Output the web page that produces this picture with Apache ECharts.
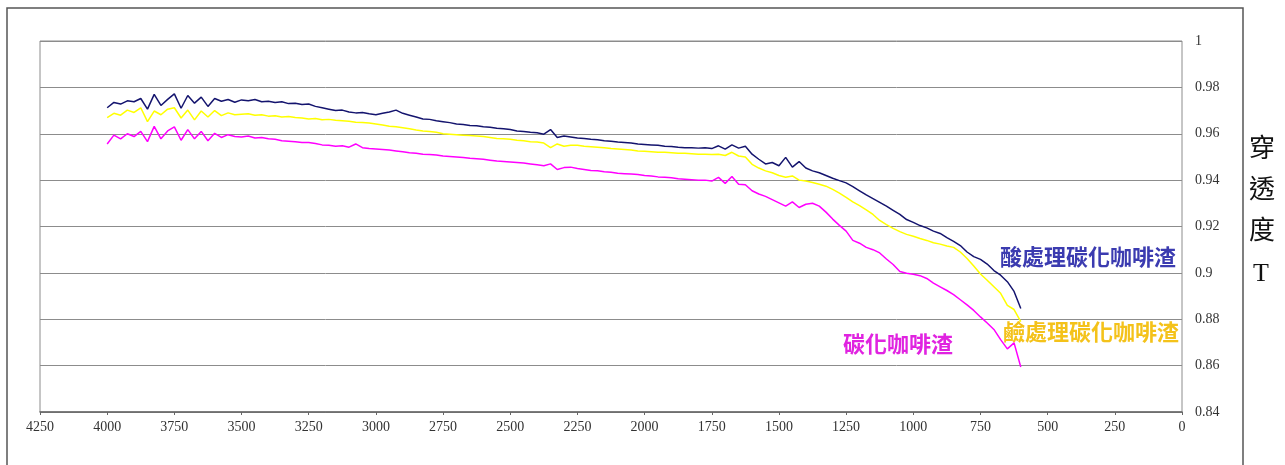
<!DOCTYPE html>
<html>
<head>
<meta charset="utf-8">
<script src="https://cdn.jsdelivr.net/npm/echarts@6/dist/echarts.min.js"></script>
<style>
html,body{margin:0;padding:0;background:#fff;}
#chart{width:1285px;height:465px;}
</style>
</head>
<body>
<div id="chart"></div>
<script>
// Wavenumbers (cm-1)
const wavenumbers = [4000,3975,3950,3925,3900,3875,3850,3825,3800,3775,
3750,3725,3700,3675,3650,3625,3600,3575,3550,3525,
3500,3475,3450,3425,3400,3375,3350,3325,3300,3275,
3250,3225,3200,3175,3150,3125,3100,3075,3050,3025,
3000,2975,2950,2925,2900,2875,2850,2825,2800,2775,
2750,2725,2700,2675,2650,2625,2600,2575,2550,2525,
2500,2475,2450,2425,2400,2375,2350,2325,2300,2275,
2250,2225,2200,2175,2150,2125,2100,2075,2050,2025,
2000,1975,1950,1925,1900,1875,1850,1825,1800,1775,
1750,1725,1700,1675,1650,1625,1600,1575,1550,1525,
1500,1475,1450,1425,1400,1375,1350,1325,1300,1275,
1250,1225,1200,1175,1150,1125,1100,1075,1050,1025,
1000,975,950,925,900,875,850,825,800,775,
750,725,700,675,650,625,600];

// 酸處理碳化咖啡渣 (navy)
const acidTreated = [0.9712,0.9735,0.9728,0.9742,0.9738,0.9752,0.9706,0.9770,0.9722,0.9748,
0.9772,0.9710,0.9765,0.9732,0.9758,0.9718,0.9752,0.9740,0.9748,0.9736,
0.9746,0.9742,0.9748,0.9738,0.9740,0.9735,0.9738,0.9730,0.9732,0.9726,
0.9728,0.9718,0.9712,0.9706,0.9700,0.9702,0.9694,0.9690,0.9692,0.9686,
0.9682,0.9688,0.9694,0.9702,0.9688,0.9680,0.9672,0.9664,0.9662,0.9656,
0.9652,0.9648,0.9642,0.9640,0.9636,0.9634,0.9630,0.9628,0.9624,0.9622,
0.9618,0.9612,0.9610,0.9606,0.9604,0.9598,0.9618,0.9584,0.9590,0.9586,
0.9582,0.9580,0.9576,0.9574,0.9570,0.9568,0.9564,0.9562,0.9560,0.9556,
0.9554,0.9552,0.9550,0.9546,0.9545,0.9542,0.9540,0.9540,0.9538,0.9540,
0.9536,0.9548,0.9534,0.9552,0.9538,0.9546,0.9512,0.9490,0.9470,0.9476,
0.9462,0.9498,0.9456,0.9480,0.9452,0.9440,0.9432,0.9420,0.9408,0.9398,
0.9388,0.9372,0.9354,0.9336,0.9320,0.9304,0.9288,0.9270,0.9252,0.9230,
0.9218,0.9204,0.9194,0.9180,0.9170,0.9152,0.9136,0.9118,0.9090,0.9070,
0.9058,0.9038,0.9010,0.8990,0.8962,0.8920,0.8846];

// 鹼處理碳化咖啡渣 (yellow)
const alkaliTreated = [0.9670,0.9688,0.9680,0.9702,0.9692,0.9712,0.9652,0.9698,0.9682,0.9706,
0.9712,0.9668,0.9702,0.9660,0.9698,0.9672,0.9700,0.9678,0.9690,0.9682,
0.9684,0.9686,0.9680,0.9682,0.9676,0.9678,0.9672,0.9674,0.9670,0.9668,
0.9664,0.9666,0.9660,0.9662,0.9658,0.9656,0.9654,0.9650,0.9648,0.9646,
0.9642,0.9638,0.9632,0.9630,0.9626,0.9622,0.9616,0.9612,0.9610,0.9606,
0.9600,0.9598,0.9596,0.9594,0.9592,0.9590,0.9588,0.9584,0.9580,0.9578,
0.9576,0.9572,0.9570,0.9566,0.9564,0.9560,0.9540,0.9556,0.9546,0.9550,
0.9550,0.9546,0.9544,0.9542,0.9540,0.9536,0.9534,0.9532,0.9530,0.9526,
0.9524,0.9522,0.9520,0.9520,0.9518,0.9516,0.9516,0.9514,0.9512,0.9512,
0.9510,0.9512,0.9506,0.9520,0.9504,0.9500,0.9468,0.9452,0.9440,0.9432,
0.9420,0.9412,0.9418,0.9400,0.9396,0.9390,0.9382,0.9374,0.9360,0.9344,
0.9326,0.9306,0.9290,0.9272,0.9252,0.9226,0.9208,0.9192,0.9178,0.9166,
0.9158,0.9148,0.9140,0.9130,0.9124,0.9116,0.9110,0.9090,0.9062,0.9030,
0.8995,0.8968,0.8940,0.8912,0.8860,0.8842,0.8790];

// 碳化咖啡渣 (magenta)
const carbonized = [0.9556,0.9594,0.9578,0.9600,0.9588,0.9610,0.9566,0.9632,0.9578,0.9612,
0.9630,0.9572,0.9618,0.9578,0.9610,0.9570,0.9602,0.9584,0.9596,0.9588,
0.9586,0.9590,0.9582,0.9584,0.9578,0.9576,0.9570,0.9568,0.9566,0.9562,
0.9562,0.9558,0.9552,0.9550,0.9546,0.9548,0.9542,0.9556,0.9540,0.9536,
0.9534,0.9532,0.9530,0.9526,0.9522,0.9518,0.9516,0.9512,0.9510,0.9508,
0.9504,0.9502,0.9500,0.9498,0.9494,0.9492,0.9490,0.9486,0.9482,0.9480,
0.9478,0.9476,0.9474,0.9470,0.9466,0.9462,0.9470,0.9446,0.9454,0.9456,
0.9450,0.9446,0.9442,0.9440,0.9436,0.9434,0.9430,0.9428,0.9426,0.9424,
0.9420,0.9418,0.9414,0.9412,0.9410,0.9406,0.9404,0.9402,0.9400,0.9400,
0.9396,0.9412,0.9386,0.9416,0.9382,0.9380,0.9354,0.9340,0.9330,0.9316,
0.9302,0.9288,0.9306,0.9282,0.9296,0.9300,0.9288,0.9262,0.9232,0.9205,
0.9180,0.9140,0.9128,0.9110,0.9100,0.9086,0.9060,0.9036,0.9006,0.8998,
0.8994,0.8988,0.8976,0.8956,0.8940,0.8924,0.8906,0.8884,0.8862,0.8838,
0.8810,0.8784,0.8756,0.8712,0.8672,0.8698,0.8594];

const seriesNames = ['鹼處理碳化咖啡渣','碳化咖啡渣','酸處理碳化咖啡渣'];
const seriesValues = [alkaliTreated, carbonized, acidTreated];
const seriesColors = ['#ffff00','#ff00ff','#14146e'];
const yTitle = ['穿','透','度','T'];

function pairs(vals){ return wavenumbers.map((w,i)=>[w, vals[i]]); }

const chart = echarts.init(document.getElementById('chart'), null, {renderer:'canvas'});
const serif = '"Liberation Serif", "DejaVu Serif", serif';
const cjk = '"Noto Sans CJK TC", "Noto Sans CJK SC", sans-serif';

chart.setOption({
  animation: false,
  backgroundColor: '#ffffff',
  grid: {left: 40, right: 103, top: 41, bottom: 53, show: true, borderColor: '#8c8c8c', borderWidth: 1},
  xAxis: {
    type: 'value', inverse: true, min: 0, max: 4250, interval: 250,
    axisLine: {show: true, onZero: false, lineStyle: {color: '#666', width: 1.5}},
    axisTick: {show: true, length: 3, lineStyle: {color: '#666'}},
    axisLabel: {color: '#333', fontFamily: serif, fontSize: 14, margin: 8, showMinLabel: true, showMaxLabel: true,
      formatter: v => String(Math.round(v))},
    splitLine: {show: false}
  },
  yAxis: {
    type: 'value', position: 'right', min: 0.84, max: 1, interval: 0.02,
    axisLine: {show: false},
    axisTick: {show: false},
    axisLabel: {color: '#333', fontFamily: serif, fontSize: 14, margin: 13,
      formatter: v => String(+(+v).toFixed(2))},
    splitLine: {show: true, lineStyle: {color: '#8c8c8c', width: 1}}
  },
  series: seriesNames.map((n, i) => ({
    name: n, type: 'line', data: pairs(seriesValues[i]), showSymbol: false, symbol: 'none',
    lineStyle: {color: seriesColors[i], width: 1.5}, z: 3 + i
  })),
  graphic: [
    {type: 'rect', shape: {x: 7, y: 8, width: 1236, height: 470}, style: {fill: null, stroke: '#555', lineWidth: 1.5}, silent: true},
    {type: 'text', left: 1000, top: 246, style: {text: '酸處理碳化咖啡渣', fill: '#3b3bb0', font: 'bold 22px ' + cjk}},
    {type: 'text', left: 1003, top: 321, style: {text: '鹼處理碳化咖啡渣', fill: '#f4c21a', font: 'bold 22px ' + cjk}},
    {type: 'text', left: 843, top: 333, style: {text: '碳化咖啡渣', fill: '#e023e0', font: 'bold 22px ' + cjk}},
    {type: 'text', left: 1249, top: 134, style: {text: yTitle[0], fill: '#111', font: '26px ' + cjk}},
    {type: 'text', left: 1249, top: 175, style: {text: yTitle[1], fill: '#111', font: '26px ' + cjk}},
    {type: 'text', left: 1249, top: 216, style: {text: yTitle[2], fill: '#111', font: '26px ' + cjk}},
    {type: 'text', left: 1253, top: 261, style: {text: yTitle[3], fill: '#111', font: '26px ' + serif}}
  ]
});
</script>
</body>
</html>
